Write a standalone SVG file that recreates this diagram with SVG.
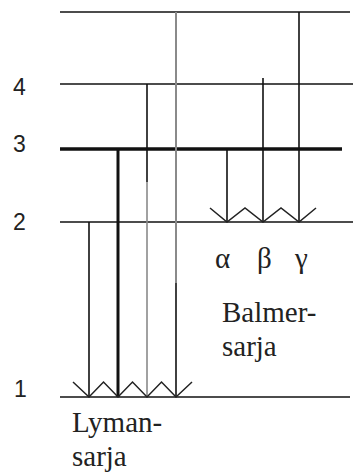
<svg xmlns="http://www.w3.org/2000/svg" width="353" height="475" viewBox="0 0 353 475">
<style>
.lvl{stroke:#111;stroke-width:1.6;fill:none}
.num{font-family:"Liberation Sans",Arial,sans-serif;font-size:23px;fill:#222}
.lbl{font-family:"Liberation Serif","Times New Roman",serif;font-size:29px;fill:#222}
.ar{stroke:#111;stroke-width:1.6;fill:none}
.head{stroke:#222;stroke-width:1.5;fill:none;stroke-linejoin:miter}
.gray{stroke:#8a8a8a}
</style>
<rect width="353" height="475" fill="#fff"/>
<g id="level-inf">
<line class="lvl" x1="60" y1="12" x2="350" y2="12"/>
</g>
<g id="level-4">
<line class="lvl" x1="60" y1="84" x2="353" y2="84"/>
<text class="num" x="13" y="95">4</text>
</g>
<g id="level-3">
<line class="lvl" x1="60" y1="149" x2="342" y2="149" style="stroke-width:3.4"/>
<text class="num" x="13" y="152">3</text>
</g>
<g id="level-2">
<line class="lvl" x1="60" y1="222" x2="353" y2="222"/>
<text class="num" x="13" y="230">2</text>
</g>
<g id="level-1">
<line class="lvl" x1="60" y1="397" x2="350" y2="397"/>
<text class="num" x="14" y="397">1</text>
</g>
<g id="connectors">
<line class="ar" x1="89" y1="222" x2="89" y2="397"/>
<line class="ar" x1="118" y1="149" x2="118" y2="397" style="stroke-width:3"/>
<line class="ar" x1="147" y1="84" x2="147" y2="182"/>
<line class="ar gray" x1="147" y1="182" x2="147" y2="397"/>
<line class="ar gray" x1="176" y1="12" x2="176" y2="283" style="stroke-width:2"/>
<line class="ar" x1="176" y1="283" x2="176" y2="397"/>
<polyline class="head" points="73,382 89,397 103.5,382 118,397 132.5,382 147,397 161.5,382 176,397 192,382"/>
<line class="ar" x1="227" y1="149" x2="227" y2="222"/>
<line class="ar" x1="263" y1="78" x2="263" y2="222"/>
<line class="ar" x1="299" y1="12" x2="299" y2="222"/>
<polyline class="head" points="210,208 227,222 245,208 263,222 281,208 299,222 316,208"/>
</g>
<g id="balmer-labels">
<text class="lbl" x="215" y="268">α</text>
<text class="lbl" x="257" y="268">β</text>
<text class="lbl" x="295" y="268">γ</text>
<text class="lbl" x="222" y="322">Balmer-</text>
<text class="lbl" x="222" y="356">sarja</text>
</g>
<g id="lyman-label">
<text class="lbl" x="72" y="432">Lyman-</text>
<text class="lbl" x="72" y="466">sarja</text>
</g>
</svg>
